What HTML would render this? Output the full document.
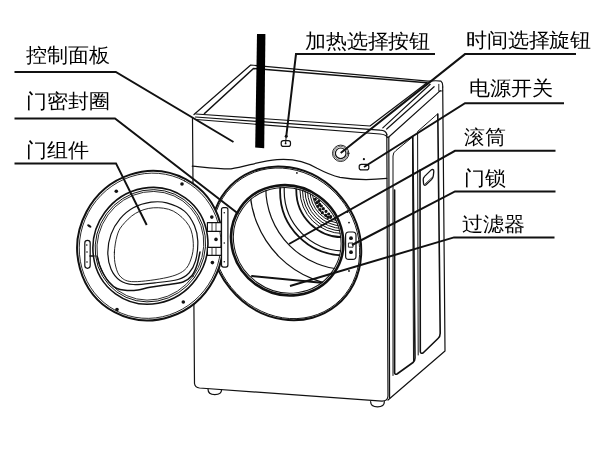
<!DOCTYPE html>
<html><head><meta charset="utf-8"><style>
html,body{margin:0;padding:0;background:#fff;width:600px;height:450px;overflow:hidden}
svg{position:absolute;left:0;top:0;display:block;will-change:transform}
text{font-family:"Liberation Sans",sans-serif;font-size:21px;fill:#000;letter-spacing:0.35px}
</style></head><body>
<svg width="600" height="450" viewBox="0 0 600 450">
<defs>
<clipPath id="drumclip"><ellipse cx="287.2" cy="240.3" rx="55.3" ry="52.3" transform="rotate(35.5 287.2 240.3)" /></clipPath>
</defs>
<g fill="none" stroke="#111" stroke-width="1.2" stroke-linejoin="round" stroke-linecap="round">
<!-- top face -->
<path d="M194,114.5 L250.7,65 L428,81.2 Q437,80.3 441,81.2 Q443,82.5 442.7,87"/>
<path d="M204.5,113.5 L253.5,68.5 L427,82.8" stroke-width="1.6"/>
<path d="M438.8,84.3 L438.8,91.3 L442.7,90.8" stroke-width="0.9"/>
<!-- front top strip -->
<path d="M196,114 L370,126 L427,82.8"/>
<path d="M195.5,117 L380,130.2 Q386,130.4 386.8,134.5"/>
<path d="M196,119.5 L380,134 Q386,134.4 387.5,137.5"/>
<!-- right side rim -->
<path d="M382.8,127.9 L430.2,84.3"/>
<path d="M386.7,129 L434.1,86.7"/>
<path d="M388.5,137.2 L440.3,90.6"/>
<!-- front face -->
<path d="M192.5,118 L194.5,383.5 Q195,387.5 199.5,388 L382,401.2 Q387.8,401 388,396 L386.8,134"/>
<path d="M389.6,398 L388.8,137"/>
<path d="M388,400 L445,351 L442.7,87"/>
<!-- panel curve -->
<path d="M192.3,166.1 C205,167.3 222,169.3 231,168.9 C246,166.6 262,160.5 277,159.6 C290,158.6 305,161 317,168.3 C325,172.5 332,175.6 340,177.4 C352,179.5 372,180 386.8,178.4"/>
<!-- right side insets -->
<path d="M393,375.5 L393,156 Q393,152.5 396,150.5 L412.5,137 L413.5,362" stroke-width="1"/>
<path d="M394.6,190 L394.6,372.5 Q394.8,375 397,374 L413,362.5 Q415,361 415,358 L412.8,136.5" stroke-width="1.6"/>
<path d="M418.2,355 L417.6,131.5 L437,114.5" stroke-width="1"/>
<path d="M420,170 L420.3,351.5 Q420.5,354 423,353 L438,338.5 Q440.3,336.5 440.2,333 L437.8,114" stroke-width="1.6"/>
<!-- side handle -->
<path d="M432.6,169.3 Q434,169.5 433.8,171.5 L433.3,175.8 Q433,178 431.5,179.6 L426,184.8 Q424.2,186 423.6,184 L423.2,179.6 Q423.1,177.6 424.6,176.4 L431,170.1 Q431.8,169.3 432.6,169.3 Z" stroke-width="1.3"/>
<path d="M432,177.6 L425.4,183.6" stroke-width="0.8"/>
<!-- feet -->
<path d="M208,389 C208,393 210,394.6 214.8,394.6 C219.6,394.6 221.6,393 221.6,389.5"/>
<path d="M370.6,401.5 C370.6,405.2 372.6,406.8 377.5,406.8 C382.4,406.8 384.4,405.2 384.4,401.5"/>
<!-- knob -->
<circle cx="340.7" cy="153.3" r="8.2" stroke-width="0.9"/>
<circle cx="340.7" cy="153.3" r="7" stroke-width="0.6"/>
<circle cx="340.7" cy="153.3" r="5.3" stroke-width="1.2"/>
<!-- heat button -->
<rect x="281.2" y="140.6" width="9.3" height="5.8" rx="2.2"/>
<!-- power button -->
<rect x="359.2" y="164.3" width="9.6" height="5.6" rx="2.2"/>
<!-- bezel -->
<ellipse cx="286.0" cy="243.3" rx="71.9" ry="80.0" transform="rotate(-39.2 286.0 243.3)" fill="#fff" stroke-width="2"/>
<ellipse cx="286.0" cy="243.3" rx="70.4" ry="78.5" transform="rotate(-39.2 286.0 243.3)" stroke-width="0.9"/>
<!-- drum rim -->
<ellipse cx="287.2" cy="240.3" rx="57.1" ry="54.1" transform="rotate(35.5 287.2 240.3)" fill="#fff" stroke-width="2.6"/>
<ellipse cx="287.2" cy="240.3" rx="54.8" ry="51.8" transform="rotate(35.5 287.2 240.3)" stroke-width="1"/>
<!-- drum interior -->
<g clip-path="url(#drumclip)">
<circle cx="350.1" cy="185.9" r="100.3"/>
<circle cx="347.1" cy="188.1" r="81.3"/>
<circle cx="343.7" cy="191.7" r="63.6" stroke-width="1.8"/>
<circle cx="344.4" cy="190.8" r="60.2"/>
<circle cx="343" cy="190.5" r="46.7" stroke-width="1.8"/>
<circle cx="343" cy="190.5" r="43" stroke-width="1"/>
<circle cx="343" cy="190.5" r="40.5" stroke-width="1"/>
<circle cx="343" cy="190.5" r="38" stroke-width="1"/>
<circle cx="343" cy="190.5" r="35.5" stroke-width="1"/>
<circle cx="343" cy="190.5" r="33" stroke-width="1"/>
<circle cx="343" cy="190.5" r="30.8" stroke-width="1"/>
<path d="M252,276 L324,283" stroke-width="2"/>
</g>
<g fill="#111"><circle cx="315.3" cy="199.3" r="1.0"/><circle cx="318.7" cy="201.3" r="1.0"/><circle cx="316.7" cy="202.7" r="1.0"/><circle cx="319.7" cy="204.3" r="1.0"/><circle cx="318.0" cy="206.3" r="1.0"/><circle cx="321.3" cy="206.0" r="1.0"/><circle cx="320.0" cy="209.7" r="1.0"/><circle cx="323.3" cy="208.7" r="1.0"/><circle cx="322.3" cy="212.7" r="1.0"/><circle cx="326.0" cy="211.3" r="1.0"/><circle cx="325.7" cy="215.3" r="1.0"/><circle cx="328.7" cy="214.0" r="1.0"/><circle cx="328.0" cy="217.3" r="1.0"/><circle cx="330.7" cy="216.7" r="1.0"/></g>
<!-- door lock -->
<rect x="345.6" y="232" width="10.4" height="27.4" rx="3.2"/>
<rect x="348.8" y="243" width="4.2" height="4.2" stroke-width="0.9"/>
<!-- door -->
<ellipse cx="150.1" cy="245.7" rx="75.4" ry="72.1" transform="rotate(-61.9 150.1 245.7)" fill="#fff" stroke-width="2"/>
<ellipse cx="150.1" cy="245.7" rx="73.4" ry="70.1" transform="rotate(-61.9 150.1 245.7)" stroke-width="0.8"/>
<ellipse cx="150.4" cy="245.8" rx="56.5" ry="59.3" transform="rotate(36.0 150.4 245.8)" stroke-width="1.6"/>
<ellipse cx="150.4" cy="245.8" rx="54.3" ry="57.1" transform="rotate(36.0 150.4 245.8)" stroke-width="0.9"/>
<ellipse cx="150.4" cy="245.8" rx="52.5" ry="55.3" transform="rotate(36.0 150.4 245.8)" stroke-width="0.8"/>
<path d="M107.8,252.2 C107.8,246.4 109.0,239.9 111.0,234.4 C113.0,228.9 116.3,223.3 120.0,218.9 C123.7,214.5 128.1,210.6 133.3,207.8 C138.5,205.0 145.5,203.0 151.1,202.2 C156.7,201.4 161.1,201.4 166.7,202.9 C172.2,204.4 179.8,207.3 184.4,211.1 C189.0,214.9 192.2,220.6 194.4,225.6 C196.6,230.6 197.6,235.2 197.8,241.1 C198.0,247.0 197.0,255.7 195.5,261.0 C194.0,266.3 191.9,269.9 189.0,273.0 C186.1,276.1 183.7,277.9 178.0,279.5 C172.3,281.1 162.4,282.0 155.0,282.8 C147.6,283.6 139.1,284.9 133.3,284.5 C127.5,284.1 123.7,283.1 120.0,280.5 C116.3,277.9 113.0,273.7 111.0,269.0 C109.0,264.3 107.8,258.0 107.8,252.2 Z"/>
<path d="M114.4,252.2 C114.6,247.2 115.7,240.4 117.0,236.0 C118.3,231.6 119.1,229.4 122.2,225.6 C125.3,221.8 130.4,216.3 135.6,213.3 C140.8,210.3 147.0,208.2 153.3,207.8 C159.6,207.4 167.4,208.1 173.3,211.1 C179.2,214.1 185.6,220.2 188.9,225.6 C192.2,231.0 193.0,237.7 193.3,243.3 C193.7,248.9 192.6,254.5 191.0,259.0 C189.4,263.5 188.0,267.4 184.0,270.5 C180.0,273.6 175.3,275.6 167.0,277.5 C158.7,279.4 141.7,281.8 134.0,281.7 C126.3,281.6 124.1,279.8 121.0,277.2 C117.9,274.6 116.7,270.2 115.6,266.0 C114.5,261.8 114.2,257.2 114.4,252.2 Z" stroke-width="0.9"/>
<path d="M97.0,256.0 C97.4,257.5 98.5,262.2 99.5,265.0 C100.5,267.8 101.5,270.2 103.0,273.0 C104.5,275.8 106.2,278.9 108.5,281.5 C110.8,284.1 112.8,287.0 117.0,288.5 C121.2,290.0 128.5,290.7 134.0,290.5 C139.5,290.3 144.5,288.2 150.0,287.3 C155.5,286.4 161.5,285.7 167.0,284.8 C172.5,283.9 178.8,283.6 183.0,282.0 C187.2,280.4 189.7,278.3 192.0,275.5 C194.3,272.7 195.7,268.9 197.0,265.0 C198.3,261.1 199.5,254.2 200.0,252.0" stroke-width="1.5"/>
<!-- handle -->
<rect x="84.8" y="240.3" width="5.4" height="28" rx="2.7"/>
<path d="M90,256 L94,256" stroke-width="1.6"/>
<!-- hinge -->
<rect x="207.4" y="222.6" width="14" height="8.8" fill="#fff"/>
<rect x="207.4" y="247.4" width="14" height="8" fill="#fff"/>
<path d="M212,222.6 V231.4 M216,222.6 V231.4 M212,247.4 V255.4 M216,247.4 V255.4" stroke-width="0.8"/>
<rect x="221.5" y="207.6" width="6.4" height="59.5" rx="2" fill="#fff"/>
</g>
<g fill="#111">
<polygon points="257,34 265.4,34 264.2,148.2 255.2,147.6" fill="#000"/>
<circle cx="116.3" cy="191.3" r="1.8"/><circle cx="182" cy="184" r="1.8"/>
<circle cx="211.8" cy="217.1" r="1.8"/><circle cx="216" cy="239.4" r="1.8"/><circle cx="212.4" cy="262.6" r="1.8"/>
<circle cx="183.3" cy="302" r="1.8"/><circle cx="117" cy="309.5" r="1.8"/>
<ellipse cx="89.3" cy="226" rx="2.4" ry="1.2" transform="rotate(30 89.3 226)"/>
<circle cx="224.3" cy="212.8" r="0.8"/><circle cx="224.3" cy="243" r="0.8"/><circle cx="224.3" cy="261.7" r="0.8"/>
<circle cx="86.8" cy="245" r="0.8"/><circle cx="87" cy="252" r="0.8"/><circle cx="87" cy="262" r="0.8"/>
<circle cx="363.9" cy="159.2" r="1.1"/>
<circle cx="296.9" cy="172.9" r="0.9"/>
<circle cx="347.5" cy="212" r="0.9"/><circle cx="349" cy="222.6" r="0.9"/><circle cx="349" cy="271" r="0.9"/>
<circle cx="351" cy="238.2" r="1.9"/><circle cx="351" cy="252.2" r="1.9"/>
</g>
<!-- leaders -->
<g fill="none" stroke="#111" stroke-width="2" stroke-linejoin="miter">
<path d="M14.5,72 L115.8,72 L233.5,142"/>
<path d="M14.5,118.4 L115,118.4 L238.3,213.7"/>
<path d="M14.5,163.4 L116,163.4 L146.7,225"/>
<path d="M435,54.1 L296,54.1 L286.3,136"/>
<path d="M576,54.1 L465,54.1 L340.7,153"/>
<path d="M564,103.2 L465,103.2 L364,167"/>
<path d="M555.5,150.8 L455,150.8 L289,244"/>
<path d="M555.5,191.4 L455,191.4 L352,245"/>
<path d="M554.5,237.4 L454,237.4 L290,286"/>
</g>
<circle cx="286.2" cy="136.3" r="1.5" fill="#111"/><path d="M286.2,136.3 L285.6,143.2" stroke="#111" stroke-width="1"/><circle cx="285.6" cy="143.4" r="0.9" fill="#111"/>
<text x="26" y="62.5" transform="matrix(1 0 0 0.95 0 2.150)">控制面板</text>
<text x="26" y="108.5" transform="matrix(1 0 0 0.95 0 4.450)">门密封圈</text>
<text x="26" y="157.5" transform="matrix(1 0 0 0.95 0 6.900)">门组件</text>
<text x="305" y="48.5" transform="matrix(1 0 0 0.95 0 1.450)">加热选择按钮</text>
<text x="466" y="48" transform="matrix(1 0 0 0.95 0 1.425)">时间选择旋钮</text>
<text x="469" y="95.5" transform="matrix(1 0 0 0.95 0 3.800)">电源开关</text>
<text x="464" y="144.5" transform="matrix(1 0 0 0.95 0 6.250)">滚筒</text>
<text x="464" y="185.5" transform="matrix(1 0 0 0.95 0 8.300)">门锁</text>
<text x="462" y="231.5" transform="matrix(1 0 0 0.95 0 10.600)">过滤器</text>
</svg>
</body></html>
